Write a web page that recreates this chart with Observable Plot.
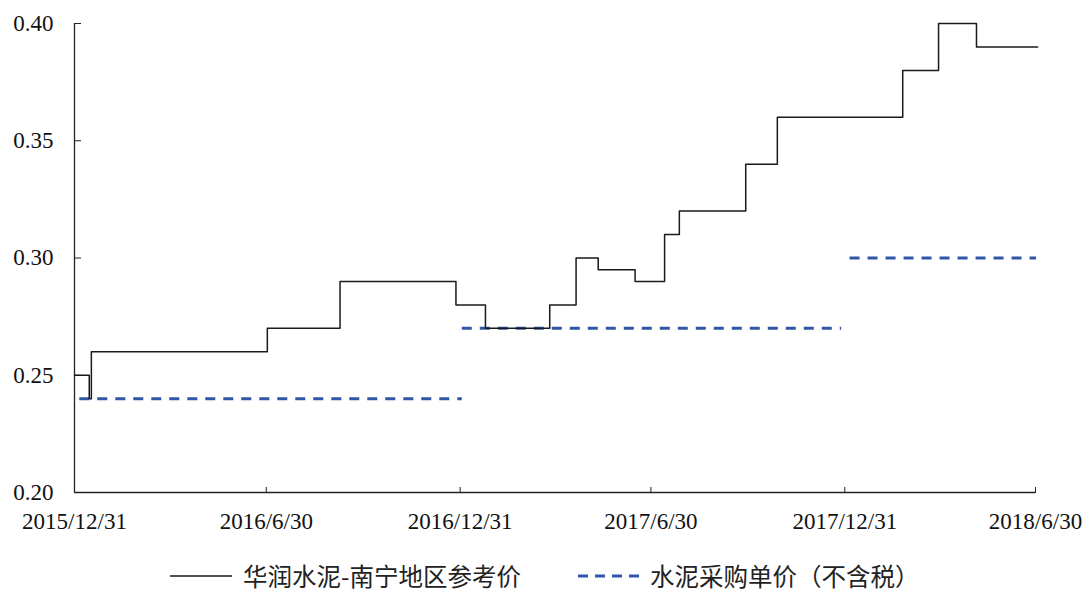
<!DOCTYPE html>
<html>
<head>
<meta charset="utf-8">
<script src="https://cdn.jsdelivr.net/npm/d3@7"></script>
<script src="https://cdn.jsdelivr.net/npm/@observablehq/plot@0.6"></script>
<style>
  html, body { margin: 0; padding: 0; background: #fff; }
  #chart { width: 1088px; }
  .legend { position: relative; height: 49px; width: 1088px; font-family: "Noto Sans CJK SC", sans-serif; font-size: 24.5px; color: #222; }
  .legend .item { position: absolute; top: 16px; display: flex; align-items: center; white-space: nowrap; line-height: 1.2; }
  .legend svg { display: block; }
</style>
</head>
<body>
<div id="chart"></div>
<div class="legend" id="legend"></div>
<script>
// 华润水泥-南宁地区参考价 (step line): change dates and values
const refDates = ["2015-12-31","2016-01-14","2016-01-16","2016-07-01","2016-09-08","2016-12-27","2017-01-24","2017-03-26","2017-04-20","2017-05-11","2017-06-15","2017-07-13","2017-07-27","2017-09-28","2017-10-28","2018-02-24","2018-03-30","2018-05-05","2018-07-02"];
const refValues = [0.25,0.24,0.26,0.27,0.29,0.28,0.27,0.28,0.30,0.295,0.29,0.31,0.32,0.34,0.36,0.38,0.40,0.39,0.39];

// 水泥采购单价（不含税） (dashed segments)
const buyStart = ["2016-01-05","2017-01-02","2018-01-05"];
const buyEnd = ["2017-01-02","2017-12-28","2018-07-01"];
const buyValues = [0.24,0.27,0.30];

// axis ticks
const xTickDates = ["2015-12-31","2016-06-30","2016-12-31","2017-06-30","2017-12-31","2018-06-30"];
const yTicks = [0.20,0.25,0.30,0.35,0.40];

const legendLabels = ["华润水泥-南宁地区参考价","水泥采购单价（不含税）"];

const parse = d3.utcParse("%Y-%m-%d");
const refData = refDates.map((d, i) => ({date: parse(d), value: refValues[i]}));
const buyData = buyValues.map((v, i) => ({x1: parse(buyStart[i]), x2: parse(buyEnd[i]), value: v}));
const xTicks = xTickDates.map(parse);
const fmtX = d3.utcFormat("%Y/%-m/%-d");

const blue = "#3057a5";
const lineColor = "#1a1a1a";

const plot = Plot.plot({
  width: 1088,
  height: 545,
  marginLeft: 74,
  marginRight: 53,
  marginTop: 23,
  marginBottom: 53,
  style: {fontFamily: "'Liberation Serif', 'Times New Roman', serif", fontSize: "23px", color: "#111", background: "#fff"},
  x: {type: "utc", domain: [xTicks[0], xTicks[xTicks.length - 1]], label: null},
  y: {domain: [0.2, 0.4], label: null},
  marks: [
    Plot.axisY({ticks: yTicks, tickFormat: d3.format(".2f"), tickSize: 0, tickPadding: 21, fontSize: 23, label: null}),
    Plot.axisY({anchor: "right", frameAnchor: "left", ticks: yTicks, text: null, tickSize: 6, stroke: "#222", label: null}),
    Plot.axisX({ticks: xTicks, tickFormat: fmtX, tickSize: 0, tickPadding: 20, fontSize: 23, label: null}),
    Plot.axisX({anchor: "top", frameAnchor: "bottom", ticks: xTicks, text: null, tickSize: 6, stroke: "#222", label: null}),
    Plot.ruleX([xTicks[0]], {stroke: "#222", strokeWidth: 1.3}),
    Plot.ruleY([0.2], {stroke: "#222", strokeWidth: 1.3}),
    Plot.ruleY(buyData, {y: "value", x1: "x1", x2: "x2", stroke: blue, strokeWidth: 3, strokeDasharray: "10,8"}),
    Plot.line(refData, {x: "date", y: "value", curve: "step-after", stroke: lineColor, strokeWidth: 1.5})
  ]
});
document.getElementById("chart").appendChild(plot);

// legend
const legend = d3.select("#legend");
const item1 = legend.append("div").attr("class", "item").style("left", "170px");
const s1 = item1.append("svg").attr("width", 62).attr("height", 10);
s1.append("line").attr("x1", 0).attr("x2", 62).attr("y1", 5).attr("y2", 5).attr("stroke", lineColor).attr("stroke-width", 1.5);
item1.append("span").style("margin-left", "11px").text(legendLabels[0]);

const item2 = legend.append("div").attr("class", "item").style("left", "578px");
const s2 = item2.append("svg").attr("width", 62).attr("height", 10);
s2.append("line").attr("x1", 0).attr("x2", 62).attr("y1", 5).attr("y2", 5).attr("stroke", blue).attr("stroke-width", 3).attr("stroke-dasharray", "10,7");
item2.append("span").style("margin-left", "10px").text(legendLabels[1]);
</script>
</body>
</html>
